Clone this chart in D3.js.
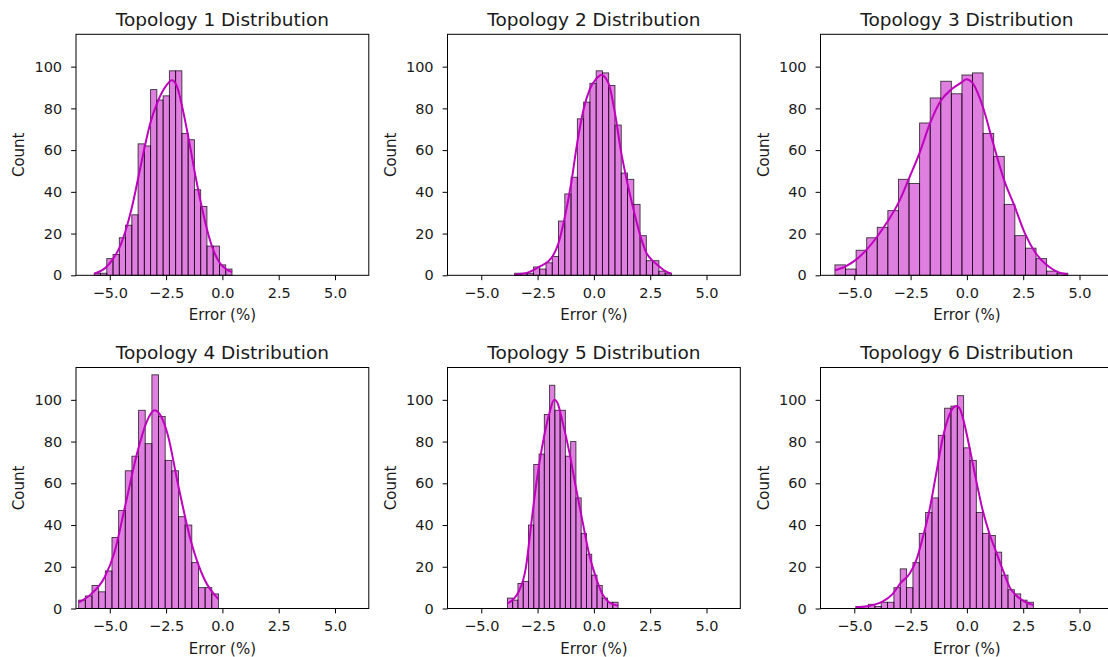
<!DOCTYPE html>
<html>
<head>
<meta charset="utf-8">
<script src="https://cdn.jsdelivr.net/npm/d3@7"></script>
<style>
  body { margin: 0; background: #fff; }
  svg text { font-family: "DejaVu Sans", sans-serif; fill: #1a1a1a; }
</style>
</head>
<body>
<div id="chart"></div>
<script>
// Error distributions, 6 topologies (histogram + kde)

const titles = ["Topology 1 Distribution", "Topology 2 Distribution", "Topology 3 Distribution",
                "Topology 4 Distribution", "Topology 5 Distribution", "Topology 6 Distribution"];

// first bin edge and bin width of each histogram (Error %)
const binStarts = [-5.69, -3.52, -5.86, -6.38, -3.84, -4.93];
const binWidths = [0.278, 0.2785, 0.470, 0.2954, 0.234, 0.2815];

const counts1 = [1, 1, 8, 10, 18, 24, 29, 63, 62, 89, 84, 86, 98, 98, 68, 65, 41, 33, 14, 14, 5, 3];
const counts2 = [1, 1, 1, 4, 3, 6, 9, 26, 39, 47, 75, 83, 92, 98, 97, 91, 72, 49, 46, 34, 19, 7, 7, 2, 1];
const counts3 = [5, 3, 12, 18, 23, 31, 46, 44, 73, 85, 93, 87, 96, 97, 68, 57, 34, 19, 13, 8, 2, 1];
const counts4 = [4, 6, 11, 8, 18, 34, 47, 66, 73, 95, 79, 112, 92, 71, 66, 44, 40, 22, 10, 10, 7];
const counts5 = [5, 4, 12, 13, 40, 69, 74, 93, 107, 95, 95, 73, 80, 53, 36, 26, 16, 11, 5, 3, 3];
const counts6 = [1, 1, 2, 1, 3, 3, 10, 19, 10, 22, 36, 46, 53, 83, 96, 97, 102, 77, 71, 46, 36, 35, 27, 16, 9, 7, 4, 3];

// kde curves: [error, count]
const kde1 = [[-5.69, 0.8], [-5.15, 4], [-4.85, 8], [-4.58, 13], [-4.31, 21], [-4.03, 32], [-3.75, 46],
              [-3.48, 60], [-3.20, 73], [-2.88, 83], [-2.61, 89], [-2.23, 93.5], [-2.00, 90], [-1.77, 80],
              [-1.49, 65], [-1.22, 49], [-0.94, 34], [-0.66, 21], [-0.40, 12], [-0.12, 6], [0.15, 3], [0.43, 1.5]];
const kde2 = [[-3.52, 0.3], [-2.91, 1.4], [-2.43, 4], [-1.84, 9], [-1.57, 15.5], [-1.29, 28], [-1.01, 44],
              [-0.74, 63.5], [-0.46, 79.5], [-0.19, 89], [0.09, 94], [0.33, 96], [0.65, 92], [0.93, 78],
              [1.21, 59], [1.49, 44], [1.76, 31.5], [2.06, 19], [2.32, 11], [2.61, 7], [2.89, 4.3],
              [3.17, 2], [3.44, 0.8]];
const kde3 = [[-5.86, 2.4], [-5.38, 4.3], [-4.92, 7.5], [-4.45, 12.3], [-3.97, 18.7], [-3.51, 26],
              [-3.04, 34.7], [-2.56, 46.7], [-2.10, 58.7], [-1.63, 73], [-1.17, 83.5], [-0.70, 89],
              [-0.22, 92.6], [-0.03, 94], [0.24, 92.3], [0.70, 81], [1.16, 63.5], [1.64, 46], [2.12, 33],
              [2.58, 20], [3.05, 10.7], [3.53, 5], [3.99, 1.8], [4.48, 0.5]];
const kde4 = [[-6.38, 2.9], [-5.82, 7], [-5.23, 15], [-4.79, 27], [-4.34, 48], [-3.75, 76], [-3.38, 89],
              [-3.01, 95], [-2.72, 92], [-2.42, 83], [-1.98, 60], [-1.39, 32], [-0.80, 14], [-0.18, 4.5]];
const kde5 = [[-3.84, 2.4], [-3.32, 8.5], [-3.02, 19.6], [-2.80, 38.8], [-2.58, 58], [-2.28, 78.6],
              [-1.99, 93], [-1.76, 100], [-1.62, 98.6], [-1.40, 89.8], [-1.10, 75.4], [-0.80, 58],
              [-0.51, 42], [-0.21, 26], [0.09, 14.8], [0.38, 6.9], [0.68, 2.9], [1.08, 1.3]];
const kde6 = [[-4.93, 0.5], [-4.34, 1.3], [-3.75, 3.3], [-3.30, 6.9], [-2.93, 12.4], [-2.56, 16.4],
              [-2.26, 22.8], [-1.96, 34], [-1.67, 46.7], [-1.37, 64.3], [-1.07, 81.8], [-0.77, 93],
              [-0.47, 97], [-0.33, 96], [-0.10, 88], [0.12, 77], [0.42, 61], [0.71, 46.7], [1.01, 35.6],
              [1.31, 26.8], [1.61, 18], [1.91, 10], [2.21, 6], [2.50, 3.7], [2.95, 1.6]];

const xTicks = [-5, -2.5, 0, 2.5, 5];
const yTicks = [0, 20, 40, 60, 80, 100];

const allCounts = [counts1, counts2, counts3, counts4, counts5, counts6];
const allKde = [kde1, kde2, kde3, kde4, kde5, kde6];

const W = 1108, H = 657;
const lefts = [76, 447.5, 820.5];
const tops = [34.3, 367.5];
const pw = 292.8, ph = 241;

const svg = d3.select("#chart")
    .append("svg")
    .attr("width", W)
    .attr("height", H);

const x = d3.scaleLinear().domain([-6.5, 6.5]).range([0, pw]);
const y = d3.scaleLinear().domain([0, 115.5]).range([ph, 0]);

const fmtX = d3.format(".1f");

allCounts.forEach(function(counts, p) {
    const g = svg.append("g")
        .attr("transform", `translate(${lefts[p % 3]}, ${tops[Math.floor(p / 3)]})`);

    const bins = counts.map((c, i) => ({
        x0: binStarts[p] + i * binWidths[p],
        x1: binStarts[p] + (i + 1) * binWidths[p],
        count: c
    }));

    // bars
    g.selectAll("rect.bar")
      .data(bins)
      .join("rect")
        .attr("class", "bar")
        .attr("x", d => x(d.x0))
        .attr("y", d => y(d.count))
        .attr("width", d => x(d.x1) - x(d.x0))
        .attr("height", d => ph - y(d.count))
        .style("fill", "#bf00bf")
        .style("fill-opacity", 0.5)
        .style("stroke", "#000")
        .style("stroke-opacity", 0.75)
        .style("stroke-width", 0.9);

    // kde line
    const line = d3.line()
        .x(d => x(d[0]))
        .y(d => y(d[1]))
        .curve(d3.curveMonotoneX);
    g.append("path")
        .datum(allKde[p])
        .attr("d", line)
        .style("fill", "none")
        .style("stroke", "#bf00bf")
        .style("stroke-width", 2);

    // axes
    const ax = g.append("g")
        .attr("transform", `translate(0, ${ph})`)
        .call(d3.axisBottom(x).tickValues(xTicks).tickSize(4.9).tickPadding(5).tickFormat(fmtX));
    ax.select(".domain").remove();
    ax.selectAll("text").style("font-size", "14.5px").attr("dy", "0.85em");

    const ay = g.append("g")
        .call(d3.axisLeft(y).tickValues(yTicks).tickSize(4.9).tickPadding(9));
    ay.select(".domain").remove();
    ay.selectAll("text").style("font-size", "14.5px");

    g.selectAll(".tick line").style("stroke", "#000").style("stroke-width", 1);

    // frame
    g.append("rect")
        .attr("width", pw)
        .attr("height", ph)
        .style("fill", "none")
        .style("stroke", "#000")
        .style("stroke-width", 1);

    // title
    g.append("text")
        .attr("x", pw / 2)
        .attr("y", -8.3)
        .attr("text-anchor", "middle")
        .style("font-size", "18.5px")
        .text(titles[p]);

    // axis labels
    g.append("text")
        .attr("x", pw / 2)
        .attr("y", ph + 45)
        .attr("text-anchor", "middle")
        .style("font-size", "15px")
        .text("Error (%)");

    g.append("text")
        .attr("transform", `translate(-52, ${ph / 2}) rotate(-90)`)
        .attr("text-anchor", "middle")
        .style("font-size", "15px")
        .text("Count");
});
</script>
</body>
</html>
